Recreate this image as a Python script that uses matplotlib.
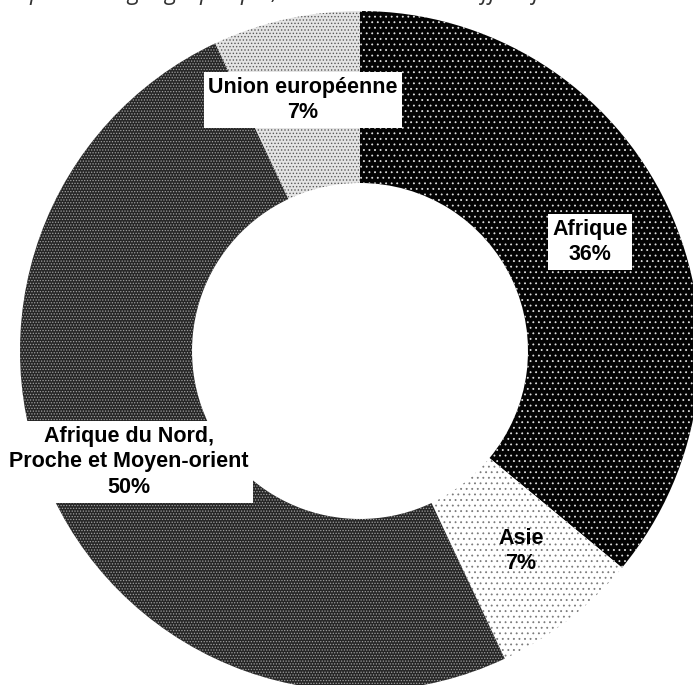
import matplotlib.pyplot as plt

regions = ['Afrique', 'Asie', 'Afrique du Nord,\nProche et Moyen-orient', 'Union européenne']
shares = [36, 7, 50, 7]

face_colors = ['#030303', '#ffffff', '#262626', '#e4e4e4']
dot_colors = ['#e0e0e0', '#7a7a7a', '#a0a0a0', '#5a5a5a']
hatches = ['...', '...', '......', '.....']

# label centres in pixels (x from left, y from top) and whether they get a white box
label_pos = [(590, 242), (521, 551), (129, 462), (303, 100)]
label_box = [True, False, True, True]

plt.rcParams['hatch.linewidth'] = 0.6

W, H = 693, 685
fig = plt.figure(figsize=(W / 100, H / 100), dpi=100)
ax = fig.add_axes([0, 0, 1, 1])

wedges, _ = ax.pie(shares, startangle=90, counterclock=False,
                   center=(360, H - 351), radius=340,
                   wedgeprops=dict(width=172, linewidth=0))
for w, fc, dc, h in zip(wedges, face_colors, dot_colors, hatches):
    w.set_facecolor(fc)
    w.set_edgecolor(dc)
    w.set_hatch(h)

ax.set_xlim(0, W)
ax.set_ylim(0, H)
ax.set_aspect('equal')
ax.axis('off')

for name, pct, (x, y), box in zip(regions, shares, label_pos, label_box):
    kw = {}
    if box:
        kw['bbox'] = dict(boxstyle='square,pad=0.2', facecolor='white', edgecolor='none')
    ax.text(x, H - y, f'{name}\n{pct}%', ha='center', va='center',
            fontsize=15.5, fontweight='bold', family='Liberation Sans',
            color='black', linespacing=1.3, **kw)

# caption cut off by the top of the image
fig.text(550 / W, 1 + 1 / H, 'Répartition par zone géographique, en % du total des effectifs',
         ha='right', va='baseline', fontsize=17, style='italic',
         family='Open Sans', color='#333333')

fig.savefig('out.png', dpi=100)
